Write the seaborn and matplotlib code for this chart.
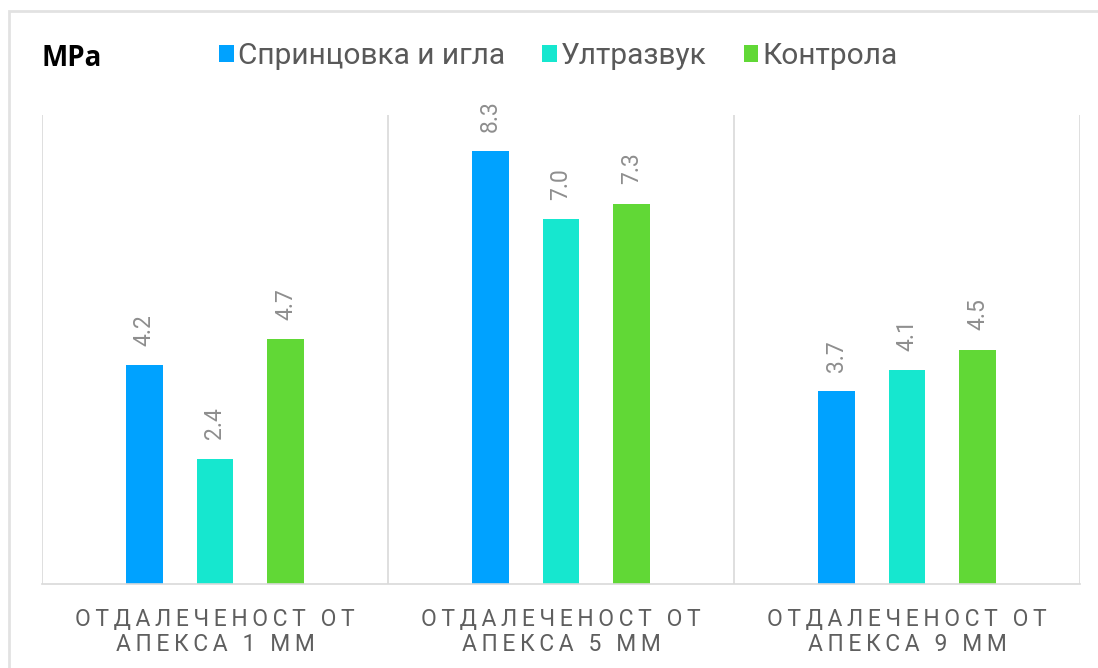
import matplotlib
matplotlib.use("Agg")
import matplotlib.pyplot as plt
import matplotlib.patches as mpatches
import seaborn as sns
import pandas as pd

# Bond strength (MPa) by distance from the apex
categories = ["ОТДАЛЕЧЕНОСТ ОТ\nАПЕКСА 1 ММ",
              "ОТДАЛЕЧЕНОСТ ОТ\nАПЕКСА 5 ММ",
              "ОТДАЛЕЧЕНОСТ ОТ\nАПЕКСА 9 ММ"]
series = ["Спринцовка и игла", "Ултразвук", "Контрола"]
syringe = [4.2, 8.3, 3.7]
ultrasound = [2.4, 7.0, 4.1]
control = [4.7, 7.3, 4.5]
colors = ["#00A2FF", "#16E7CF", "#61D836"]
unit_label = "MPa"

rows = []
for name, vals in zip(series, [syringe, ultrasound, control]):
    for cat, v in zip(categories, vals):
        rows.append({"cat": cat, "series": name, "value": v})
df = pd.DataFrame(rows)

sns.set_theme(style="white")
plt.rcParams["font.family"] = ["Roboto", "DejaVu Sans"]

W, H = 1098, 668
fig = plt.figure(figsize=(W / 100, H / 100), dpi=100)
ax = fig.add_axes([42 / W, 1 - 584 / H, (1080 - 42) / W, (584 - 115) / H])

sns.barplot(data=df, x="cat", y="value", hue="series", order=categories,
            hue_order=series, palette=colors, width=0.614, gap=0.478,
            linewidth=0, saturation=1, ax=ax, legend=True)

ax.set_ylim(0, 9)
ax.set_xlim(-0.5, 2.5)
ax.set_yticks([])
ax.set_xlabel("")
ax.set_ylabel("")

# category separators
for x in [-0.5, 0.5, 1.5, 2.5]:
    ax.axvline(x, color="#d9d9d9", lw=1.2, zorder=0)
for side in ["left", "right", "top"]:
    ax.spines[side].set_visible(False)
ax.spines["bottom"].set_color("#d9d9d9")
ax.spines["bottom"].set_linewidth(1.2)


def letter_spaced(text):
    return "\n".join("\u2009".join(line) for line in text.split("\n"))


ax.set_xticks(range(len(categories)))
ax.set_xticklabels([letter_spaced(c) for c in categories], fontsize=16.5,
                   color="#5f5f5f", linespacing=1.12)
ax.tick_params(axis="x", length=0, pad=17)

for cont in ax.containers:
    ax.bar_label(cont, fmt="%.1f", rotation=90, padding=14, fontsize=16.5,
                 color="#8e8e8e")

handles, labels = ax.get_legend_handles_labels()
ax.legend(handles, labels, loc="center left", bbox_to_anchor=(219 / W, 1 - 56 / H),
          bbox_transform=fig.transFigure, ncol=3, frameon=False, fontsize=21.5,
          handlelength=0.5, handleheight=0.5, handletextpad=0.12,
          columnspacing=1.25, borderaxespad=0, borderpad=0,
          labelcolor="#595959")

fig.text(42 / W, 1 - 59 / H, unit_label, fontsize=20, fontweight="bold",
         color="black", va="center", ha="left", family=["Open Sans", "DejaVu Sans"])

# outer frame of the chart card
fig.patches.append(mpatches.Rectangle((9 / W, -0.1), 1.2, 1 - 11 / H + 0.1,
                                      transform=fig.transFigure, fill=False,
                                      edgecolor="#e2e2e2", lw=2))

fig.savefig("out.png", dpi=100)
